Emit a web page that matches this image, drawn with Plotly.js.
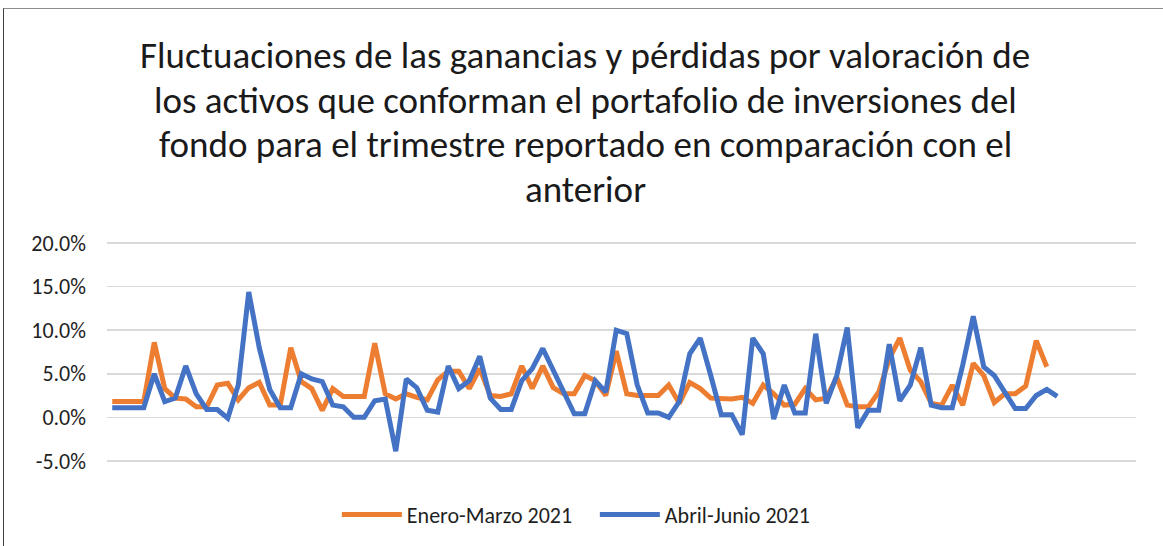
<!DOCTYPE html>
<html>
<head>
<meta charset="utf-8">
<script src="https://cdn.plot.ly/plotly-3.0.1.min.js"></script>
<style>
  body { margin: 0; background: #ffffff; }
  #chart { width: 1163px; height: 546px; }
  #frame { position: absolute; left: 3px; top: 8px; right: 0; bottom: 0;
           border-top: 1.5px solid #8c8c8c; border-left: 1.5px solid #404040; pointer-events: none; }
</style>
</head>
<body>
<div id="chart"></div>
<div id="frame"></div>
<script>
// ---- chart text ----
const titleLines = [
  'Fluctuaciones de las ganancias y pérdidas por valoración de',
  'los activos que conforman el portafolio de inversiones del',
  'fondo para el trimestre reportado en comparación con el',
  'anterior'
];
const seriesNames = ['Enero-Marzo 2021', 'Abril-Junio 2021'];

// ---- series values (percent) ----
const eneroMarzo = [
  1.8, 1.8, 1.8, 1.8, 8.6, 3.3, 2.2, 2.1, 1.2, 1.2,
  3.7, 3.9, 2.0, 3.4, 4.0, 1.4, 1.4, 8.0, 4.1, 3.3,
  0.8, 3.3, 2.4, 2.4, 2.4, 8.5, 2.7, 2.1, 2.7, 2.3,
  2.0, 4.3, 5.3, 5.3, 3.3, 5.6, 2.5, 2.4, 2.7, 5.9,
  3.3, 5.9, 3.4, 2.7, 2.7, 4.8, 4.2, 2.5, 7.6, 2.7,
  2.5, 2.5, 2.5, 3.7, 1.6, 4.0, 3.3, 2.2, 2.1, 2.1,
  2.3, 1.6, 3.7, 2.7, 1.4, 1.5, 3.3, 2.0, 2.2, 4.6,
  1.4, 1.2, 1.2, 2.9, 6.7, 9.1, 5.4, 4.1, 1.6, 1.4,
  3.7, 1.4, 6.2, 4.8, 1.7, 2.7, 2.7, 3.6, 8.8, 5.8
];
const abrilJunio = [
  1.1, 1.1, 1.1, 1.1, 5.0, 1.8, 2.2, 5.9, 2.7, 0.9,
  0.9, -0.1, 3.7, 14.4, 8.0, 3.2, 1.1, 1.1, 5.0, 4.4,
  4.1, 1.4, 1.2, 0.0, 0.0, 1.9, 2.1, -3.9, 4.4, 3.4,
  0.8, 0.6, 5.9, 3.3, 4.2, 7.0, 2.2, 0.9, 0.9, 4.2,
  5.6, 7.9, 5.4, 3.0, 0.4, 0.4, 4.2, 2.9, 10.0, 9.6,
  3.7, 0.5, 0.5, 0.0, 1.8, 7.3, 9.1, 4.8, 0.3, 0.3,
  -2.0, 9.1, 7.3, -0.2, 3.7, 0.5, 0.5, 9.6, 1.6, 4.8,
  10.3, -1.2, 0.8, 0.8, 8.4, 1.9, 3.7, 8.0, 1.4, 1.1,
  1.1, 6.0, 11.6, 5.8, 4.8, 2.9, 1.0, 1.0, 2.5, 3.2,
  2.4
];

// ---- axis ticks ----
const tickValues = [-5, 0, 5, 10, 15, 20];
const tickLabels = ['-5.0%', '0.0%', '5.0%', '10.0%', '15.0%', '20.0%'];
const categoryCount = 98;

const seriesColors = ['#ED7D31', '#4472C4'];
const fontFamily = 'Carlito, "Open Sans", Lato, sans-serif';

const idx = arr => arr.map((_, i) => i);

const traces = [
  { x: idx(eneroMarzo), y: eneroMarzo, name: seriesNames[0], type: 'scatter', mode: 'lines',
    line: { color: seriesColors[0], width: 5, shape: 'linear' }, hoverinfo: 'y+name' },
  { x: idx(abrilJunio), y: abrilJunio, name: seriesNames[1], type: 'scatter', mode: 'lines',
    line: { color: seriesColors[1], width: 5, shape: 'linear' }, hoverinfo: 'y+name' }
];

// visible gridline band: 20% at y=243px, -5% at y=462px; range padded so edge gridlines are drawn
const pxPerUnit = (462 - 243) / 25;
const pad = 0.25;
const yRange = [-5 - pad, 20 + pad];
const plotTop = 243 - pad * pxPerUnit, plotBottom = 462 + pad * pxPerUnit;
const plotLeft = 107, plotRight = 1136;
const pyToPaper = py => (plotBottom - py) / (plotBottom - plotTop);
const pxToPaper = px => (px - plotLeft) / (plotRight - plotLeft);
const titleLineY = [54, 99, 144, 189];

const annotations = titleLines.map((t, i) => ({
  text: t, xref: 'paper', yref: 'paper', x: pxToPaper(585), y: pyToPaper(titleLineY[i]),
  xanchor: 'center', yanchor: 'middle', showarrow: false,
  font: { family: fontFamily, size: 37, color: '#1a1a1a' }
}));

const layout = {
  width: 1163, height: 546,
  margin: { l: plotLeft, r: 1163 - plotRight, t: plotTop, b: 546 - plotBottom, pad: 0 },
  paper_bgcolor: '#ffffff', plot_bgcolor: '#ffffff',
  showlegend: true,
  legend: { orientation: 'h', x: pxToPaper(342) - 0.005, xanchor: 'left', y: pyToPaper(515), yanchor: 'middle',
            font: { family: fontFamily, size: 22, color: '#1f1f1f' }, itemwidth: 60,
            entrywidth: 183, entrywidthmode: 'pixels', traceorder: 'normal' },
  xaxis: { range: [-0.5, categoryCount - 0.5], showgrid: false, zeroline: false, showline: false,
           showticklabels: false, ticks: '', fixedrange: true },
  yaxis: { range: yRange, tickvals: tickValues, ticktext: tickLabels, showgrid: true,
           gridcolor: '#d9d9d9', gridwidth: 1.5, zeroline: false, showline: false, ticks: '',
           ticklabelstandoff: 20, tickfont: { family: fontFamily, size: 22, color: '#1f1f1f' }, fixedrange: true },
  annotations: annotations
};

Plotly.newPlot('chart', traces, layout, { displayModeBar: false, staticPlot: true });
</script>
</body>
</html>
